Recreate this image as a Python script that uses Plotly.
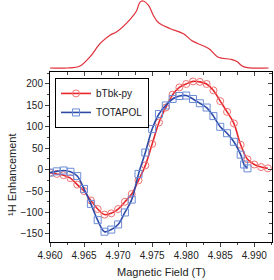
import plotly.graph_objects as go

# EPR spectrum (top panel)
epr_field = [4.9600, 4.9625, 4.9644, 4.9659, 4.9674, 4.9688, 4.9698, 4.9718, 4.9727,
             4.9732, 4.9737, 4.9745, 4.9752, 4.9759, 4.9776, 4.9796, 4.9808, 4.9816,
             4.9833, 4.9847, 4.9865, 4.9874, 4.9884, 4.9921]
epr_int = [0.0, 0.0, 0.03, 0.17, 0.37, 0.49, 0.54, 0.73, 0.85,
           0.98, 1.0, 0.93, 0.78, 0.68, 0.59, 0.51, 0.41, 0.37,
           0.29, 0.16, 0.13, 0.10, 0.02, 0.0]

# DNP field profiles
red_field = [4.960, 4.961, 4.962, 4.963, 4.964, 4.965, 4.966, 4.967, 4.968, 4.969,
             4.970, 4.971, 4.972, 4.973, 4.974, 4.975, 4.976, 4.977, 4.978, 4.979,
             4.980, 4.981, 4.982, 4.983, 4.984, 4.985, 4.986, 4.987, 4.988, 4.989,
             4.990, 4.991, 4.992]
red_val = [-7, -10, -13, -20, -35, -50, -72, -92, -105, -102,
           -92, -75, -57, -25, 10, 60, 110, 145, 175, 192,
           200, 206, 205, 200, 185, 160, 135, 108, 58, 24,
           12, 6, 3]

blue_field = [4.960, 4.961, 4.962, 4.963, 4.964, 4.965, 4.966, 4.967, 4.968, 4.969,
              4.970, 4.971, 4.972, 4.973, 4.974, 4.975, 4.976, 4.977, 4.978, 4.979,
              4.980, 4.981, 4.982, 4.983, 4.984, 4.985, 4.986, 4.987, 4.988, 4.9885,
              4.989]
blue_val = [-7, -4, -2, -5, -15, -45, -80, -118, -145, -140,
            -128, -100, -70, -10, 40, 95, 130, 150, 165, 172,
            173, 165, 155, 145, 125, 100, 85, 65, 35, 12,
            3]

x_ticks = [4.960, 4.965, 4.970, 4.975, 4.980, 4.985, 4.990]
y_ticks = [-150, -100, -50, 0, 50, 100, 150, 200]

XR = [4.960, 4.9926]
YR = [-169, 228]

FAM = "Liberation Sans, Arial, sans-serif"

fig = go.Figure()

fig.add_trace(go.Scatter(x=epr_field, y=epr_int, mode="lines", line=dict(color="#e0303a", width=1.2, shape="spline"),
                         xaxis="x2", yaxis="y2", showlegend=False))

fig.add_trace(go.Scatter(x=red_field, y=red_val, mode="lines+markers", name="bTbk-py",
                         line=dict(color="#e8262d", width=1.6, shape="spline"),
                         marker=dict(symbol="circle-open", size=7, color="#f07272", line=dict(width=1))))
fig.add_trace(go.Scatter(x=blue_field, y=blue_val, mode="lines+markers", name="TOTAPOL",
                         line=dict(color="#2d4aa8", width=1.6, shape="spline"),
                         marker=dict(symbol="square-open", size=7, color="#6c8cd6", line=dict(width=1))))

font = dict(family=FAM, size=10, color="#222")

fig.update_layout(
    width=274, height=280,
    margin=dict(l=50, r=2, t=0, b=38),
    paper_bgcolor="white", plot_bgcolor="white",
    font=font,
    xaxis=dict(range=XR, tickvals=x_ticks, tickformat=".3f", ticks="outside", ticklen=4,
               tickwidth=1, showline=True, linecolor="black", linewidth=1, mirror=True,
               showgrid=False, zeroline=False, anchor="y",
               minor=dict(dtick=0.0025, tick0=4.960, ticks="outside", ticklen=2, showgrid=False),
               tickfont=font),
    yaxis=dict(range=YR, domain=[0, 0.7025], tickvals=y_ticks, ticks="outside", ticklen=4,
               showline=True, linecolor="black", linewidth=1, mirror=True,
               showgrid=False, zeroline=False, anchor="x",
               minor=dict(dtick=25, tick0=0, ticks="outside", ticklen=2, showgrid=False),
               tickfont=font),
    xaxis3=dict(range=XR, overlaying="x", side="top", anchor="y", tickvals=x_ticks,
                ticks="inside", ticklen=4, showticklabels=False, showgrid=False, zeroline=False,
                showline=False,
                minor=dict(dtick=0.0025, tick0=4.960, ticks="inside", ticklen=3, showgrid=False)),
    yaxis3=dict(range=YR, overlaying="y", side="right", anchor="x", tickvals=y_ticks,
                ticks="inside", ticklen=4, showticklabels=False, showgrid=False, zeroline=False,
                showline=False,
                minor=dict(dtick=25, tick0=0, ticks="inside", ticklen=3, showgrid=False)),
    xaxis2=dict(range=XR, anchor="y2", visible=False),
    yaxis2=dict(range=[-0.03, 1.015], domain=[0.7107, 1], anchor="x2", visible=False),
    legend=dict(x=0.0225, y=0.678, xanchor="left", yanchor="top", bordercolor="black",
                borderwidth=1, bgcolor="white", font=dict(family=FAM, size=10, color="#222"),
                itemwidth=30, tracegroupgap=0),
    annotations=[
        dict(text="¹H Enhancement", x=-0.171, y=0.277, xref="paper", yref="paper", textangle=-90,
             xanchor="center", yanchor="middle",
             showarrow=False, font=dict(family=FAM, size=11, color="#222")),
        dict(text="Magnetic Field (T)", x=0.5, y=-0.125, xref="paper", yref="paper",
             xanchor="center", yanchor="middle",
             showarrow=False, font=dict(family=FAM, size=11, color="#222")),
    ],
)

# invisible anchor trace so the overlay tick axes render
fig.add_trace(go.Scatter(x=[XR[0]], y=[YR[0]], xaxis="x3", yaxis="y3", mode="markers",
                         marker=dict(opacity=0), showlegend=False, hoverinfo="skip"))

fig.write_html("out.html")
